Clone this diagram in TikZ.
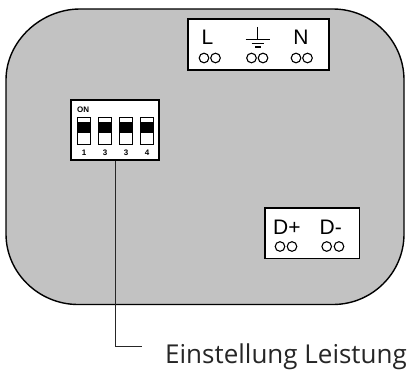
\documentclass[tikz,border=0pt]{standalone}
\usepackage{fontspec}
\setmainfont{Liberation Sans}
\newfontfamily\labelfont{Open Sans}
\tikzset{
 box/.style={draw=black,fill=white,line width=1.5pt,inner sep=0pt},
 termtext/.style={font=\fontsize{21}{21}\selectfont,inner sep=0pt,text=black},
 hole/.style={draw=black,line width=1.1pt,fill=none,circle,minimum size=9.6pt,inner sep=0pt},
 dipnum/.style={font=\bfseries\fontsize{8}{8}\selectfont,inner sep=0pt},
 sw/.style={draw=black,line width=1.3pt,fill=white,minimum width=13pt,minimum height=27.5pt,inner sep=0pt},
 lead/.style={draw=black!85,line width=1.4pt}
}
\definecolor{body}{gray}{0.76}
\begin{document}
\begin{tikzpicture}[x=1pt,y=-1pt]
\useasboundingbox (0,0) rectangle (411,369);
\draw[fill=body,draw=black,line width=1.4pt] (80,9) -- (333,9)
 .. controls (372,9) and (404,41) .. (404,80) -- (404,234)
 .. controls (404,273) and (372,304.5) .. (333,304.5) -- (78,304.5)
 .. controls (39,304.5) and (6,273) .. (6,234) -- (6,80)
 .. controls (6,41) and (41,9) .. (80,9) -- cycle;
% terminal boxes
\node[box,minimum width=141pt,minimum height=51pt] (top) at (258.5,44.5) {};
\node[box,minimum width=94.5pt,minimum height=50.5pt] (bot) at (312,233) {};
\node[termtext] (L) at (207.5,37.5) {L};
\node[termtext] (N) at (301,37.5) {N};
\node[termtext,anchor=west] (dp) at (273,227) {D+};
\node[termtext,anchor=west] (dm) at (319.5,227) {D-};
\foreach \n/\x/\y in {a/204/58,b/215.5/58,c/251.5/58,d/263/58,e/296/58,f/307.5/58,g/280/246.5,h/292/246.5,i/326.7/246.5,j/339/246.5}
 \node[hole] (\n) at (\x,\y) {};
% earth symbol
\coordinate (e0) at (257.7,27);
\coordinate (e1) at (257.7,39.5);
\draw[line width=1.1pt] (e0) -- (e1);
\draw[line width=1.1pt] (245.7,39.5) -- (269.7,39.5);
\draw[line width=1.1pt] (251.7,43.5) -- (263.5,43.5);
\draw[line width=1.1pt] (255,47) -- (260.5,47);
% dip switch
\node[box,minimum width=88pt,minimum height=60pt] (dip) at (115,130) {};
\node[dipnum,anchor=west] (on) at (77,110) {ON};
\foreach \n/\x/\t in {s1/84/1,s2/105/3,s3/126/3,s4/147/4}{
 \node[sw] (\n) at (\x,131) {};
 \fill[black] (\x-6.5,122) rectangle (\x+6.5,133);
 \node[dipnum] (t\n) at (\x,153) {\t};
}
% leader
\coordinate (c) at (115.7,346.7);
\coordinate (d) at (141.7,346.7);
\draw[lead] (dip.south -| c) -- (c) -- (d);
\node[font=\labelfont\fontsize{26}{26}\selectfont,anchor=base west,inner sep=0pt,text=black!85] (lab) at (165,363) {Einstellung Leistung};
\end{tikzpicture}
\end{document}
